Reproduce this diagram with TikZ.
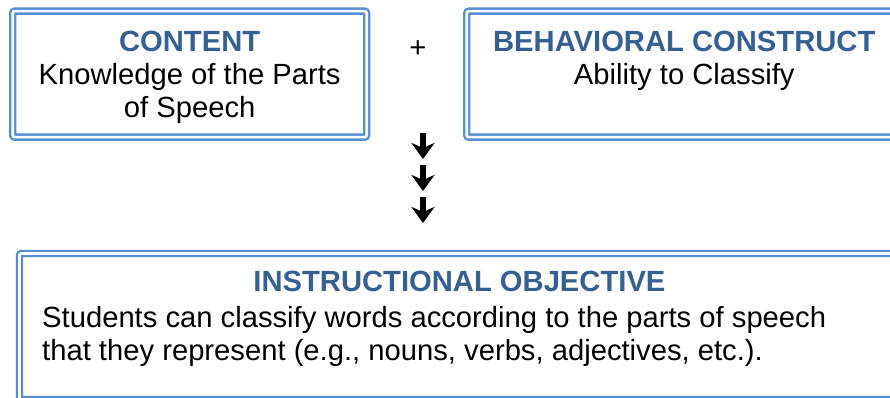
\documentclass[tikz,border=0pt]{standalone}
\usepackage{fontspec}
\setmainfont{Liberation Sans}
\usetikzlibrary{positioning,arrows.meta}
\definecolor{frameblue}{RGB}{85,142,213}
\definecolor{titleblue}{RGB}{55,96,146}

\begin{document}
\begin{tikzpicture}[x=1pt,y=-1pt,
    every node/.append style={inner sep=0pt, font=\fontsize{29.2}{33}\selectfont},
    frame/.style={draw=frameblue, line width=2.3pt, double=white, double distance=2.7pt, rounded corners=2pt},
    heading/.style={text=titleblue, font=\fontsize{29.2}{33}\selectfont\bfseries},
    downarrow/.style={line width=6.5pt, -{Stealth[length=16pt, width=23pt, inset=5pt]}}
  ]
  \useasboundingbox (0,0) rectangle (890,398);
  \clip (0,0) rectangle (890,398);
  % Content
  \node[frame, minimum width=354pt, minimum height=126pt, anchor=north west] (content) at (11.5,10) {};
  \node[align=center, below=21pt of content.north] (contentText)
    {\textcolor{titleblue}{\bfseries CONTENT}\\Knowledge of the Parts\\of Speech};
  %
  \node (plus) at (418,49) {+};
  %
  % Behavioral construct
  \node[frame, minimum width=435pt, minimum height=126pt, anchor=north west] (construct) at (465.6,10) {};
  \node[align=center, below=21pt of construct.north] (constructText)
    {\textcolor{titleblue}{\bfseries BEHAVIORAL CONSTRUCT}\\Ability to Classify};
  %
  \foreach \y in {133,165,197}
    \draw[downarrow] (423,\y) -- (423,\y+26);
  %
  % Instructional objective
  \node[frame, minimum width=880pt, minimum height=146pt, anchor=north west] (objective) at (18.3,252.3) {};
  \node[heading, below=19pt of objective.north] (objectiveTitle) {INSTRUCTIONAL OBJECTIVE};
  \node[align=left, anchor=north west] (objectiveText) at (42,306)
    {Students can classify words according to the parts of speech\\that they represent (e.g., nouns, verbs, adjectives, etc.).};
\end{tikzpicture}
\end{document}
